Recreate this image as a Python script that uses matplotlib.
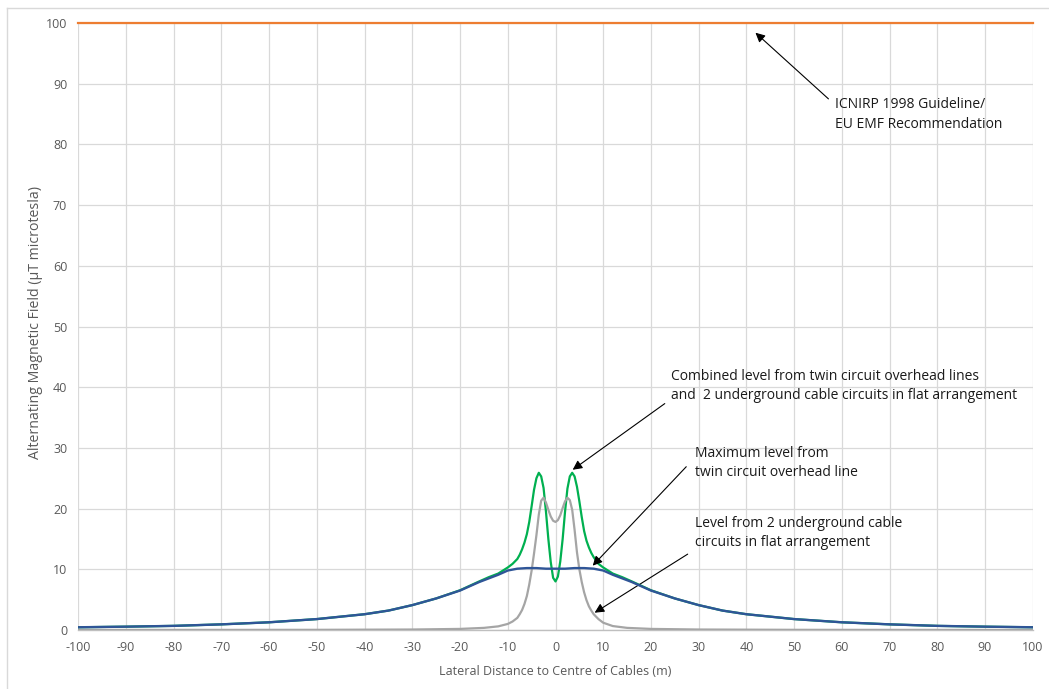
import matplotlib
matplotlib.use("Agg")
import matplotlib.pyplot as plt
from matplotlib.lines import Line2D

plt.rcParams['font.family'] = ['Open Sans', 'DejaVu Sans']
plt.rcParams['axes.unicode_minus'] = False

# --- data ---
# maximum level from twin circuit overhead line (blue)
x_ohl = [-100, -90, -80, -70, -60, -50, -40, -35, -30, -25, -20, -16, -14, -12, -10, -8, -6, -4, -2,
         0, 2, 4, 6, 8, 10, 12, 14, 16, 20, 25, 30, 35, 40, 50, 60, 70, 80, 90, 100]
y_ohl = [0.45, 0.55, 0.68, 0.93, 1.27, 1.8, 2.6, 3.2, 4.1, 5.2, 6.5, 7.9, 8.5, 9.1, 9.8, 10.1, 10.2, 10.2, 10.1,
         10.1, 10.1, 10.2, 10.2, 10.1, 9.8, 9.1, 8.5, 7.9, 6.5, 5.2, 4.1, 3.2, 2.6, 1.8, 1.27, 0.93, 0.68, 0.55, 0.45]

# combined level (green)
x_comb = [-100, -90, -80, -70, -60, -50, -40, -35, -30, -25, -20, -16, -14, -12, -10, -9, -8, -7.5, -7, -6.5,
          -6, -5.5, -5, -4.5, -4, -3.5, -3, -2.5, -2, -1.5, -1, -0.5, 0, 0.5, 1, 1.5, 2, 2.5, 3, 3.5,
          4, 4.5, 5, 5.5, 6, 6.5, 7, 7.5, 8, 9, 10, 12, 14, 16, 20, 25, 30, 35, 40, 50,
          60, 70, 80, 90, 100]
y_comb = [0.45, 0.55, 0.68, 0.93, 1.27, 1.8, 2.6, 3.2, 4.1, 5.2, 6.55, 8.0, 8.7, 9.3, 10.3, 10.9, 11.7, 12.4, 13.3, 14.4,
          15.8, 17.8, 20.4, 23.1, 25.0, 25.9, 25.3, 23.4, 19.5, 15.0, 11.2, 8.6, 8.0, 8.8, 11.3, 15.0, 19.5, 23.3, 25.3, 25.9,
          25.3, 23.6, 21.2, 18.6, 16.3, 14.7, 13.6, 12.7, 12.0, 10.9, 10.3, 9.3, 8.7, 8.0, 6.55, 5.2, 4.1, 3.2, 2.6, 1.8,
          1.27, 0.93, 0.68, 0.55, 0.45]

# level from 2 underground cable circuits (grey)
x_ugc = [-100, -70, -50, -30, -20, -15, -12, -10, -9, -8, -7.5, -7, -6.5, -6, -5.5, -5, -4.5, -4, -3.5, -3,
         -2.5, -2, -1.5, -1, -0.5, 0, 0.5, 1, 1.5, 2, 2.5, 3, 3.5, 4, 4.5, 5, 5.5, 6, 6.5, 7,
         7.5, 8, 9, 10, 12, 15, 20, 30, 50, 70, 100]
y_ugc = [0.01, 0.02, 0.03, 0.08, 0.18, 0.35, 0.6, 1.0, 1.4, 2.0, 2.6, 3.3, 4.3, 5.6, 7.5, 9.8, 12.6, 15.6, 19.0, 21.3,
         21.8, 21.0, 19.8, 18.7, 18.0, 17.8, 18.1, 18.9, 20.1, 21.2, 21.8, 21.4, 19.8, 16.5, 12.8, 10.0, 7.9, 6.2, 4.9, 3.9,
         3.2, 2.6, 1.8, 1.2, 0.65, 0.35, 0.18, 0.08, 0.03, 0.02, 0.01]

# ICNIRP 1998 guideline / EU recommendation (orange)
x_limit = [-100, 100]
y_limit = [100, 100]

x_ticks = list(range(-100, 101, 10))
y_ticks = list(range(0, 101, 10))

# --- plot ---
fig = plt.figure(figsize=(10.49, 6.89), dpi=100)
ax = fig.add_axes([78.3 / 1049, 1 - 630 / 689, (1032.7 - 78.3) / 1049, (630 - 23) / 689])

ax.plot(x_comb, y_comb, color='#00B050', lw=1.6, zorder=3)
ax.plot(x_ugc, y_ugc, color='#A5A5A5', lw=1.6, zorder=4)
ax.plot(x_ohl, y_ohl, color='#2F5597', lw=1.7, zorder=5)
ax.plot(x_limit, y_limit, color='#ED7D31', lw=1.6, zorder=6, clip_on=False)

ax.set_xlim(-100, 100)
ax.set_ylim(0, 100)
ax.set_xticks(x_ticks)
ax.set_yticks(y_ticks)
ax.grid(True, color='#D9D9D9', lw=0.9)
ax.set_axisbelow(True)
for side in ['top', 'right', 'left']:
    ax.spines[side].set_visible(False)
ax.spines['bottom'].set_color('#BFBFBF')
ax.spines['bottom'].set_linewidth(1.0)
ax.tick_params(length=0, labelsize=9, labelcolor='#595959', pad=8)

ax.set_xlabel('Lateral Distance to Centre of Cables (m)', fontsize=9, color='#595959', labelpad=8)
ax.set_ylabel('Alternating Magnetic Field (µT microtesla)', fontsize=10.2, color='#595959')
ax.yaxis.set_label_coords(-0.0365, 0.507)

# annotations
arrow = dict(arrowstyle='-|>', color='black', lw=0.8, mutation_scale=14, shrinkA=0, shrinkB=0)
ax.annotate('', xy=(41.9, 98.4), xytext=(57.2, 87.5), arrowprops=arrow)
ax.annotate('', xy=(3.6, 26.4), xytext=(22.9, 37.3), arrowprops=arrow)
ax.annotate('', xy=(7.8, 10.6), xytext=(27.4, 26.9), arrowprops=arrow)
ax.annotate('', xy=(8.2, 2.85), xytext=(27.7, 12.5), arrowprops=arrow)

txt = dict(fontsize=10.0, color='#1a1a1a', ha='left', va='center', linespacing=1.4)
ax.text(58.6, 84.9, 'ICNIRP 1998 Guideline/\nEU EMF Recommendation', **txt)
ax.text(24.2, 40.2, 'Combined level from twin circuit overhead lines\nand  2 underground cable circuits in flat arrangement', **txt)
ax.text(29.2, 27.5, 'Maximum level from\ntwin circuit overhead line', **txt)
ax.text(29.2, 16.0, 'Level from 2 underground cable\ncircuits in flat arrangement', **txt)

# chart area border
fig.add_artist(Line2D([7 / 1049, 7 / 1049], [0, 1 - 8 / 689], transform=fig.transFigure, color='#D9D9D9', lw=1))
fig.add_artist(Line2D([7 / 1049, 1], [1 - 8 / 689, 1 - 8 / 689], transform=fig.transFigure, color='#D9D9D9', lw=1))

fig.savefig('out.png', dpi=100)
